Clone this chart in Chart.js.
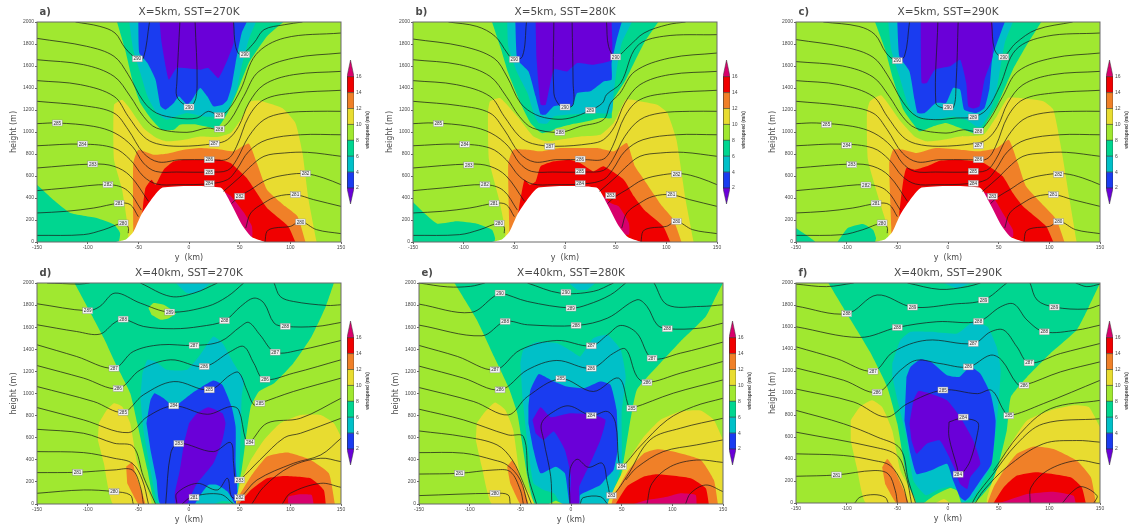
<!DOCTYPE html>
<html>
<head>
<meta charset="utf-8">
<title>windspeed cross sections</title>
<style>
html, body { margin: 0; background: #fff; }
#page { position: relative; width: 1135px; height: 526px; overflow: hidden; }
canvas { position: absolute; filter: blur(0.5px); }
</style>
<script src="https://cdn.jsdelivr.net/npm/chart.js@4"></script>
</head>
<body>
<div id="page"></div>
<script>
// axis ticks and colour levels
const yKmTicks = [-150, -100, -50, 0, 50, 100, 150];
const heightTicks = [0, 200, 400, 600, 800, 1000, 1200, 1400, 1600, 1800, 2000];
const windTicks = [2, 4, 6, 8, 10, 12, 14, 16];
const windLevels = [0, 2, 4, 6, 8, 10, 12, 14, 16, 18.1];
const windColors = ["#6a00d8", "#1a3cf0", "#00c0c8", "#00d690", "#a0e830", "#e8dc30", "#f08028", "#f00000", "#d8006c"];
// index into windColors
const C2 = 0, C4 = 1, C6 = 2, C8 = 3, C10 = 4, C12 = 5, C14 = 6, C16 = 7, C18 = 8;

const wholePlane = [[-150, 0], [150, 0], [150, 2000], [-150, 2000]];
const terrain = [[-72, 0], [-62, 25], [-55, 90], [-47, 250], [-38, 375], [-26, 495], [31, 495], [41, 357], [53, 145], [62, 45], [75, 0]];

// ---- panel a: windspeed bands [y km, height m]
const aLow8 = [[-150, 520], [-134, 385], [-117, 264], [-91, 218], [-74, 158], [-68, 82], [-70, 0], [-150, 0]];
const aYellow = [[126, 0], [118, 385], [112, 809], [105, 1082], [92, 1218], [70, 1285], [61, 1279], [51, 1112], [41, 990], [28, 954], [11, 960], [-5, 930], [-22, 915], [-32, 945], [-45, 1036], [-60, 1233], [-66, 1294], [-74, 1248], [-74, 748], [-66, 476], [-60, 112], [-60, 0]];
const aOrange = [[115, 0], [107, 233], [95, 324], [77, 476], [67, 718], [59, 894], [44, 824], [28, 845], [11, 855], [-5, 839], [-22, 803], [-35, 794], [-50, 839], [-55, 718], [-55, 142], [-55, 0]];
const aRed = [[105, 0], [98, 142], [77, 309], [67, 445], [57, 582], [41, 718], [31, 748], [11, 748], [-5, 748], [-15, 733], [-25, 657], [-33, 521], [-37, 567], [-43, 490], [-46, 264], [-46, 0]];
const aMagenta = [[31, 480], [41, 420], [54, 270], [62, 145], [62, 40], [40, 100], [25, 400]];
const aTop8 = [[-71, 2000], [-63, 1748], [-56, 1476], [-48, 1263], [-38, 1127], [-27, 1021], [-15, 1021], [-9, 1067], [8, 1067], [28, 1036], [38, 1172], [47, 1354], [59, 1627], [77, 1870], [93, 2000]];
const aTop6 = [[-59, 2000], [-55, 1748], [-48, 1536], [-41, 1324], [-32, 1172], [-22, 1112], [-13, 1142], [-2, 1172], [14, 1142], [28, 1142], [38, 1203], [47, 1385], [52, 1597], [59, 1840], [66, 2000]];
const aTop4 = [[-50, 2000], [-49, 1718], [-41, 1627], [-33, 1476], [-28, 1233], [-23, 1203], [-15, 1263], [-10, 1324], [-2, 1248], [3, 1294], [11, 1400], [18, 1324], [24, 1233], [33, 1248], [38, 1294], [42, 1415], [46, 1627], [52, 1900], [57, 2000]];
const aTop2 = [[-29, 2000], [-27, 1809], [-20, 1476], [-12, 1582], [11, 1567], [19, 1582], [29, 1491], [38, 1657], [44, 1809], [44, 2000]];

// ---- panel b
const bLow8 = [[-150, 364], [-139, 264], [-126, 167], [-107, 188], [-87, 167], [-72, 112], [-69, 36], [-70, 0], [-150, 0]];
const bYellow = [[127, 0], [119, 385], [110, 930], [101, 1173], [91, 1248], [71, 1285], [60, 1294], [48, 1082], [35, 976], [15, 960], [-1, 936], [-18, 915], [-31, 960], [-47, 1142], [-64, 1309], [-74, 1279], [-76, 1173], [-75, 748], [-65, 385], [-59, 112], [-59, 0]];
const bOrange = [[115, 0], [107, 203], [96, 324], [78, 567], [69, 688], [61, 900], [48, 824], [32, 854], [15, 854], [-5, 854], [-24, 824], [-37, 839], [-51, 839], [-56, 718], [-55, 142], [-55, 0]];
const bRed = [[104, 0], [97, 142], [78, 294], [68, 415], [58, 567], [38, 688], [28, 642], [15, 718], [5, 748], [-11, 733], [-24, 688], [-29, 551], [-35, 521], [-40, 567], [-46, 264], [-46, 0]];
const bMagenta = [[33, 460], [45, 355], [53, 324], [63, 173], [63, 67], [40, 100], [25, 400]];
const bTop8 = [[-72, 2000], [-64, 1779], [-56, 1536], [-44, 1264], [-34, 1082], [-23, 990], [-14, 1006], [-8, 1036], [5, 1067], [22, 1097], [35, 1127], [46, 1127], [46, 1264], [60, 1476], [78, 1809], [92, 2000]];
const bTop6 = [[-57, 2000], [-56, 1779], [-47, 1536], [-37, 1354], [-31, 1173], [-26, 1082], [-18, 1076], [-11, 1142], [5, 1158], [28, 1173], [46, 1173], [48, 1354], [51, 1567], [56, 1809], [66, 2000]];
const bTop4 = [[-49, 2000], [-47, 1657], [-36, 1551], [-29, 1324], [-24, 1158], [-19, 1158], [-11, 1233], [0, 1248], [7, 1233], [12, 1354], [25, 1370], [38, 1460], [46, 1476], [46, 1627], [51, 1839], [56, 2000]];
const bTop2 = [[-29, 2000], [-28, 1657], [-24, 1248], [-19, 1248], [-11, 1567], [2, 1551], [12, 1627], [28, 1612], [46, 1657], [46, 2000]];

// ---- panel c
const cLow8a = [[-150, 127], [-131, 0], [-150, 0]];
const cLow8b = [[-109, 0], [-99, 127], [-84, 164], [-74, 112], [-71, 36], [-72, 0]];
const cYellow = [[127, 0], [120, 385], [112, 839], [104, 1203], [94, 1279], [71, 1309], [59, 1309], [48, 1142], [35, 976], [12, 960], [-5, 930], [-21, 915], [-33, 960], [-48, 1112], [-66, 1333], [-77, 1279], [-80, 1173], [-79, 748], [-67, 355], [-59, 112], [-59, 0]];
const cOrange = [[115, 0], [107, 203], [95, 324], [77, 506], [69, 718], [60, 930], [48, 854], [31, 824], [12, 839], [-12, 854], [-31, 809], [-44, 839], [-54, 839], [-58, 718], [-56, 142], [-56, 0]];
const cRed = [[104, 0], [97, 142], [74, 324], [64, 445], [54, 597], [35, 718], [12, 748], [-8, 739], [-21, 688], [-33, 657], [-41, 673], [-44, 567], [-48, 264], [-48, 0]];
const cMagenta = [[31, 476], [44, 415], [54, 264], [64, 112], [64, 45], [40, 100], [25, 400]];
const cTop8 = [[-72, 2000], [-62, 1748], [-54, 1476], [-44, 1203], [-35, 1082], [-28, 1006], [-15, 1051], [-2, 1082], [12, 1036], [25, 990], [33, 1006], [38, 1082], [48, 1233], [64, 1567], [77, 1779], [92, 2000]];
const cTop6 = [[-59, 2000], [-56, 1748], [-48, 1506], [-39, 1233], [-31, 1142], [-15, 1112], [5, 1142], [18, 1112], [28, 1051], [33, 1051], [41, 1173], [48, 1385], [56, 1809], [64, 2000]];
const cTop4 = [[-50, 2000], [-48, 1688], [-38, 1551], [-33, 1294], [-30, 1173], [-23, 1173], [-12, 1264], [-2, 1264], [5, 1400], [12, 1385], [16, 1203], [28, 1173], [36, 1218], [41, 1400], [44, 1688], [56, 2000]];
const cTop2 = [[-27, 2000], [-26, 1445], [-21, 1445], [-13, 1567], [2, 1597], [12, 1657], [18, 1445], [20, 1233], [25, 1212], [31, 1233], [36, 1476], [44, 1688], [44, 2000]];

// ---- panel d
const dGreen = [[-113, 2000], [-97, 1727], [-84, 1501], [-71, 1244], [-58, 1003], [-51, 731], [-41, 308], [-32, 0], [44, 0], [47, 97], [52, 308], [56, 580], [61, 882], [69, 1018], [84, 1093], [103, 1274], [121, 1516], [135, 1788], [143, 2000]];
const dIsland = [[-40, 1773], [-35, 1818], [-25, 1803], [-13, 1727], [-20, 1682], [-28, 1667], [-37, 1712]];
const dCapCyan = [[-13, 2000], [-2, 1909], [11, 1924], [21, 2000]];
const dCyan = [[-46, 1184], [-41, 1305], [-33, 1290], [-22, 1214], [-2, 1214], [11, 1350], [24, 1516], [33, 1456], [44, 1274], [54, 1123], [52, 972], [51, 610], [49, 187], [46, 0], [-29, 0], [-38, 308], [-45, 670], [-48, 972]];
const dBlue = [[-42, 731], [-38, 942], [-34, 1003], [-25, 957], [-15, 882], [3, 1003], [24, 1117], [33, 1078], [42, 882], [46, 700], [46, 368], [46, 0], [-28, 0], [-32, 217], [-38, 489]];
const dPurple = [[0, 731], [8, 821], [19, 876], [33, 821], [36, 731], [33, 580], [24, 368], [8, 187], [3, 97], [-2, 0], [-13, 0], [-14, 97], [-9, 308], [-5, 550]];
const dBlobCyan = [[6, 0], [10, 66], [19, 172], [28, 172], [38, 112], [44, 21], [46, 0]];
const dBlobGreen = [[25, 0], [32, 25], [42, 20], [44, 0]];
const dYellowL = [[-89, 731], [-81, 852], [-74, 912], [-66, 882], [-58, 731], [-51, 368], [-37, 0], [-75, 0], [-84, 368], [-90, 580]];
const dOrangeL = [[-62, 338], [-56, 377], [-53, 278], [-43, 0], [-50, 0], [-61, 187]];
const dYellowR = [[150, 610], [143, 731], [130, 806], [110, 806], [90, 731], [74, 580], [61, 399], [52, 217], [47, 66], [47, 0], [150, 0]];
const dOrangeR = [[144, 0], [138, 278], [120, 399], [97, 465], [77, 429], [61, 248], [49, 66], [47, 0]];
const dRed = [[135, 0], [133, 127], [120, 233], [94, 254], [77, 233], [61, 127], [49, 0]];
const dMagenta = [[98, 0], [98, 66], [110, 88], [121, 82], [123, 0]];

// ---- panel e
const eGreen = [[-115, 2000], [-93, 1667], [-76, 1335], [-62, 1063], [-53, 821], [-43, 248], [-35, 0], [36, 0], [49, 248], [57, 670], [65, 1033], [85, 1244], [108, 1471], [133, 1697], [143, 1878], [150, 2000]];
const eCapCyan = [[-2, 2000], [6, 1940], [16, 1940], [24, 2000]];
const eCyan = [[-50, 1274], [-47, 1395], [-34, 1465], [-14, 1456], [1, 1380], [9, 1335], [22, 1501], [36, 1531], [49, 1395], [54, 1154], [50, 821], [50, 368], [42, 127], [36, 0], [-9, 0], [-17, 97], [-27, 127], [-37, 187], [-43, 550], [-48, 972]];
const eBlob = [[-22, 0], [-15, 30], [-8, 0]];
const eBlue = [[-42, 882], [-40, 1033], [-32, 1175], [-20, 1123], [-4, 1063], [13, 1048], [29, 1108], [39, 1078], [45, 852], [46, 489], [42, 308], [36, 248], [29, 172], [9, 82], [8, 0], [-1, 0], [-6, 278], [-15, 338], [-30, 278], [-37, 489], [-42, 731]];
const ePurple = [[-38, 761], [-30, 876], [-20, 785], [-1, 821], [22, 806], [34, 761], [29, 580], [19, 368], [8, 150], [8, 0], [-1, 0], [0, 248], [-6, 489], [-17, 655], [-27, 580], [-35, 640]];
const eYellowL = [[-93, 731], [-86, 821], [-75, 918], [-65, 852], [-57, 670], [-50, 248], [-37, 0], [-78, 0], [-88, 338], [-94, 580]];
const eOrangeL = [[-63, 338], [-58, 393], [-53, 308], [-42, 0], [-50, 0], [-60, 187]];
const eYellowR = [[150, 580], [141, 761], [128, 846], [108, 837], [88, 761], [72, 610], [59, 429], [42, 127], [37, 0], [150, 0]];
const eOrangeR = [[145, 0], [141, 217], [128, 399], [101, 474], [85, 495], [72, 459], [57, 308], [42, 66], [40, 0]];
const eRed = [[136, 0], [133, 142], [118, 233], [85, 269], [72, 248], [55, 157], [44, 0]];
const eMagenta = [[124, 0], [123, 82], [108, 97], [95, 66], [75, 36], [62, 0]];

// ---- panel f
const fGreen = [[-118, 2000], [-96, 1663], [-77, 1374], [-60, 1055], [-50, 720], [-42, 295], [-32, 0], [25, 0], [45, 204], [58, 660], [62, 964], [78, 1146], [101, 1359], [127, 1572], [139, 1784], [150, 2000]];
const fCapCyan = [[-4, 2000], [9, 1952], [22, 2000]];
const fBlobLime = [[-24, 0], [-14, 67], [2, 137], [9, 112], [13, 0]];
const fBlobYellow = [[-12, 0], [-4, 36], [2, 0]];
const fCyan = [[-55, 1268], [-47, 1480], [-37, 1556], [-17, 1556], [9, 1541], [25, 1648], [39, 1602], [48, 1420], [52, 1207], [48, 720], [43, 356], [35, 204], [25, 52], [14, 0], [12, 100], [3, 150], [-10, 120], [-22, 70], [-34, 200], [-41, 600], [-49, 900], [-55, 1150]];
const fBlue = [[-41, 1146], [-37, 1237], [-27, 1307], [-17, 1283], [-1, 1161], [11, 1146], [22, 1237], [32, 1176], [42, 994], [47, 751], [43, 356], [32, 204], [22, 67], [17, 21], [12, 52], [5, 204], [-1, 356], [-17, 295], [-31, 264], [-37, 447], [-43, 751]];
const fPurple = [[-38, 720], [-34, 933], [-29, 1018], [-17, 994], [-1, 933], [12, 781], [25, 568], [32, 356], [22, 234], [19, 128], [12, 173], [6, 325], [-8, 568], [-21, 538], [-31, 447], [-36, 568]];
const fYellowL = [[-96, 751], [-87, 872], [-75, 933], [-65, 872], [-55, 660], [-47, 295], [-32, 0], [-81, 0], [-90, 325], [-96, 568]];
const fOrangeL = [[-65, 325], [-60, 401], [-54, 325], [-39, 0], [-51, 0], [-62, 173]];
const fYellowR = [[150, 690], [139, 872], [124, 888], [101, 842], [78, 751], [62, 538], [48, 295], [39, 0], [150, 0]];
const fOrangeR = [[146, 0], [141, 234], [127, 386], [104, 492], [85, 514], [68, 447], [55, 295], [45, 143], [39, 0]];
const fRed = [[136, 0], [132, 143], [121, 234], [88, 280], [68, 249], [55, 143], [45, 0]];
const fMagenta = [[126, 0], [124, 67], [104, 103], [78, 82], [58, 21], [50, 0]];

// ---- potential temperature contours, top row shares most of them
const top280L = [[-150, 60], [-104, 67], [-84, 112], [-65, 172], [-60, 135], [-60, 80]];
const top281L = [[-150, 264], [-121, 279], [-94, 309], [-69, 352], [-58, 340], [-50, 230]];
const top282L = [[-150, 467], [-121, 491], [-79, 521], [-61, 470], [-47, 290]];
const top283L = [[-150, 673], [-94, 709], [-74, 688], [-58, 600], [-40, 370]];
const top280R = [[75, 0], [77, 97], [84, 127], [100, 142], [110, 188], [126, 112], [150, 76]];
const top281R = [[56, 127], [61, 264], [74, 355], [87, 415], [105, 430], [123, 385], [150, 324]];
const top282R = [[42, 350], [50, 415], [61, 476], [77, 567], [97, 612], [115, 621], [133, 582], [150, 521]];
const top283R = [[34, 460], [51, 597], [59, 673], [74, 779], [94, 809], [117, 815], [150, 779]];
const top284 = [[-150, 875], [-105, 890], [-74, 854], [-58, 748], [-45, 597], [-32, 527], [-12, 521], [20, 530], [38, 567], [47, 657], [59, 824], [77, 930], [110, 975], [150, 975]];
const top285 = [[-150, 1076], [-130, 1082], [-94, 1051], [-73, 990], [-56, 870], [-45, 718], [-33, 642], [-12, 636], [20, 636], [38, 651], [47, 748], [59, 960], [74, 1112], [94, 1172], [123, 1188], [150, 1188]];
const top286 = [[-150, 1279], [-104, 1239], [-74, 1172], [-60, 1021], [-45, 809], [-30, 727], [-9, 748], [20, 748], [38, 754], [47, 870], [59, 1142], [74, 1294], [103, 1354], [150, 1379]];
const top287 = [[-150, 1467], [-107, 1430], [-74, 1324], [-60, 1142], [-45, 960], [-32, 894], [-9, 870], [25, 894], [38, 930], [49, 1051], [59, 1263], [74, 1430], [103, 1521], [150, 1551]];
const a288 = [[-150, 1657], [-104, 1612], [-74, 1506], [-58, 1324], [-45, 1142], [-32, 1036], [-2, 997], [18, 1036], [30, 1027], [41, 1112], [54, 1324], [69, 1551], [103, 1672], [150, 1718]];
const a289 = [[-150, 1851], [-101, 1779], [-74, 1688], [-60, 1521], [-45, 1279], [-32, 1172], [-12, 1127], [8, 1127], [19, 1188], [30, 1151], [39, 1203], [51, 1385], [66, 1703], [94, 1854], [150, 1900]];
const a290L = [[-112, 2000], [-88, 1960], [-73, 1900], [-63, 1763], [-51, 1663], [-45, 1672], [-39, 2000]];
const a290C = [[-9, 2000], [-12, 1445], [-12, 1324], [-4, 1248], [5, 1263], [8, 1445], [6, 2000]];
const a290R = [[44, 2000], [46, 1779], [51, 1703], [64, 1809], [74, 1930], [94, 1975], [112, 2000]];
const b288 = [[-150, 1657], [-104, 1612], [-74, 1506], [-58, 1324], [-45, 1142], [-32, 1036], [-5, 997], [15, 1051], [38, 1112], [45, 1264], [54, 1350], [69, 1551], [103, 1672], [150, 1718]];
const b289 = [[-150, 1845], [-101, 1779], [-70, 1670], [-57, 1500], [-44, 1264], [-29, 1158], [-11, 1118], [5, 1127], [25, 1197], [37, 1264], [41, 1340], [55, 1445], [71, 1779], [97, 1870], [150, 1885]];
const b290L = [[-115, 2000], [-87, 1960], [-69, 1870], [-57, 1718], [-51, 1657], [-42, 1688], [-38, 2000]];
const b290C = [[-11, 2000], [-11, 1354], [-6, 1248], [0, 1218], [8, 1248], [8, 1445], [7, 2000]];
const b290R = [[41, 2000], [43, 1779], [50, 1682], [63, 1779], [78, 1900], [101, 1975], [119, 2000]];
const c288 = [[-150, 1640], [-104, 1600], [-74, 1500], [-58, 1324], [-45, 1142], [-32, 1036], [-2, 990], [15, 1020], [30, 1009], [41, 1112], [54, 1324], [69, 1551], [103, 1672], [150, 1718]];
const c289 = [[-150, 1840], [-101, 1770], [-74, 1680], [-60, 1521], [-45, 1279], [-31, 1142], [-12, 1112], [8, 1127], [25, 1136], [38, 1203], [51, 1415], [67, 1748], [97, 1870], [150, 1900]];
const c290L = [[-123, 2000], [-88, 1960], [-72, 1885], [-61, 1718], [-51, 1648], [-43, 1688], [-38, 2000]];
const c290C = [[-10, 2000], [-12, 1264], [-5, 1218], [5, 1218], [8, 1445], [10, 2000]];
const c290R = [[43, 2000], [46, 1748], [54, 1682], [67, 1809], [87, 1930], [123, 2000]];

const d290a = [[-140, 2000], [-125, 1995], [-108, 1990], [-98, 2000]];
const d290b = [[-48, 2000], [-18, 1878], [5, 1909], [28, 2000]];
const d289a = [[-150, 1812], [-100, 1749], [-88, 1788], [-73, 1909], [-48, 1818], [-19, 1737], [18, 1788], [38, 1878], [54, 2000]];
const d289b = [[84, 2000], [90, 1878], [103, 1833], [136, 1797], [150, 1803]];
const d288 = [[-150, 1622], [-111, 1561], [-88, 1537], [-74, 1637], [-65, 1673], [-45, 1607], [-15, 1586], [11, 1607], [35, 1658], [51, 1788], [64, 1863], [74, 1818], [84, 1637], [95, 1607], [126, 1607], [150, 1643]];
const d287 = [[-150, 1441], [-111, 1335], [-74, 1229], [-55, 1380], [-28, 1441], [5, 1435], [31, 1471], [51, 1607], [59, 1643], [70, 1531], [85, 1374], [110, 1395], [150, 1480]];
const d286 = [[-150, 1253], [-104, 1139], [-70, 1045], [-48, 1214], [-18, 1305], [15, 1244], [41, 1380], [54, 1425], [64, 1274], [74, 1129], [103, 1184], [150, 1305]];
const d285 = [[-150, 1063], [-94, 927], [-65, 830], [-45, 988], [-15, 1108], [20, 1033], [41, 1169], [49, 1190], [57, 1033], [64, 897], [70, 912], [103, 1018], [150, 1139]];
const d284 = [[-150, 873], [-104, 761], [-60, 646], [-41, 791], [-15, 888], [18, 812], [41, 882], [49, 852], [56, 580], [60, 559], [77, 731], [110, 776], [150, 957]];
const d283L = [[-150, 676], [-104, 640], [-74, 550], [-55, 519], [-45, 248], [-33, 0]];
const d283C = [[-23, 0], [-18, 459], [-10, 550], [24, 474], [41, 556], [44, 368], [46, 217], [50, 217], [70, 399], [94, 600], [110, 640], [150, 776]];
const d282L = [[-150, 474], [-104, 465], [-74, 414], [-56, 368], [-46, 217], [-40, 0]];
const d282C = [[-12, 0], [-12, 97], [8, 187], [28, 127], [38, 233], [42, 66], [50, 57], [67, 217], [103, 368], [130, 444], [150, 595]];
const d281L = [[-150, 284], [-110, 287], [-74, 308], [-56, 308], [-48, 157], [-45, 0]];
const d281C = [[-7, 0], [3, 66], [31, 88], [44, 0]];
const d281R = [[62, 0], [74, 157], [100, 338], [130, 414], [150, 383]];
const d280L = [[-150, 97], [-104, 127], [-74, 112], [-58, 82], [-55, 0]];
const d280R = [[92, 0], [100, 97], [130, 187], [150, 151]];

const e290a = [[-150, 2000], [-122, 1965], [-99, 1970], [-85, 2000]];
const e290b = [[-43, 2000], [-11, 1909], [22, 1924], [42, 2000]];
const e289a = [[-150, 1809], [-99, 1733], [-76, 1878], [-70, 1909], [-43, 1833], [0, 1773], [16, 1803], [39, 1893], [54, 2000]];
const e289b = [[82, 2000], [95, 1803], [128, 1788], [150, 1803]];
const e288 = [[-150, 1619], [-88, 1522], [-65, 1652], [-43, 1622], [6, 1616], [36, 1682], [65, 1848], [75, 1788], [85, 1622], [95, 1586], [128, 1592], [150, 1637]];
const e287 = [[-150, 1435], [-112, 1335], [-75, 1214], [-50, 1395], [-14, 1480], [20, 1431], [36, 1531], [49, 1616], [65, 1546], [80, 1320], [108, 1365], [150, 1465]];
const e286 = [[-150, 1248], [-106, 1139], [-70, 1033], [-43, 1214], [-14, 1299], [20, 1229], [42, 1365], [54, 1401], [65, 1154], [75, 1099], [108, 1184], [150, 1290]];
const e285 = [[-150, 1054], [-96, 927], [-62, 806], [-43, 972], [-10, 1133], [22, 1018], [47, 1139], [57, 882], [60, 867], [101, 1003], [150, 1123]];
const e284L = [[-150, 858], [-106, 761], [-62, 625], [-47, 610], [-42, 248], [-34, 0]];
const e284C = [[-19, 0], [-20, 248], [-27, 580], [-29, 731], [-17, 837], [-2, 888], [20, 800], [36, 837], [44, 731], [47, 399], [50, 338], [68, 519], [95, 761], [121, 882], [150, 957]];
const e283L = [[-150, 661], [-106, 610], [-73, 535], [-58, 399], [-47, 187], [-39, 0]];
const e283C = [[-1, 0], [-1, 308], [6, 405], [17, 332], [31, 368], [36, 187], [40, 76], [55, 248], [78, 580], [108, 686], [150, 776]];
const e282L = [[-150, 465], [-106, 460], [-76, 398], [-63, 353], [-50, 217], [-43, 0]];
const e282R = [[54, 217], [65, 330], [91, 474], [124, 535], [150, 580]];
const e281L = [[-150, 271], [-110, 278], [-76, 308], [-60, 293], [-50, 127], [-47, 0]];
const e281C = [[9, 0], [12, 57], [29, 66], [36, 0]];
const e281R = [[75, 0], [80, 187], [98, 338], [124, 398], [150, 376]];
const e280L = [[-150, 76], [-75, 97], [-62, 82], [-60, 0]];
const e280R = [[113, 0], [118, 97], [133, 172], [150, 112]];

const f290a = [[-150, 1990], [-120, 1967], [-93, 2000]];
const f290b = [[-40, 2000], [-8, 1942], [19, 1967], [32, 2000]];
const f290c = [[126, 2000], [137, 1967], [150, 1990]];
const f289a = [[-150, 1790], [-100, 1721], [-70, 1891], [-35, 1781], [6, 1809], [35, 1845], [58, 2000]];
const f289b = [[81, 2000], [88, 1845], [105, 1781], [136, 1763], [150, 1800]];
const f288 = [[-150, 1602], [-87, 1505], [-50, 1596], [-11, 1648], [30, 1651], [52, 1784], [65, 1809], [78, 1663], [95, 1556], [127, 1572], [150, 1617]];
const f287 = [[-150, 1420], [-110, 1313], [-74, 1198], [-54, 1374], [-21, 1480], [25, 1450], [42, 1556], [55, 1572], [68, 1420], [80, 1274], [111, 1359], [150, 1450]];
const f286 = [[-150, 1228], [-103, 1116], [-70, 1006], [-47, 1207], [-31, 1298], [-8, 1268], [20, 1237], [42, 1344], [53, 1298], [68, 1085], [75, 1070], [111, 1192], [150, 1283]];
const f285 = [[-150, 1036], [-93, 918], [-61, 781], [-40, 903], [-5, 1027], [29, 994], [43, 1024], [55, 842], [60, 793], [94, 903], [150, 1115]];
const f284L = [[-150, 842], [-103, 720], [-70, 600], [-47, 492], [-39, 200], [-32, 0]];
const f283L = [[-150, 644], [-73, 508], [-50, 430], [-41, 230], [-36, 0]];
const f282L = [[-150, 447], [-103, 432], [-73, 386], [-57, 340], [-45, 173], [-40, 0]];
const f281L = [[-150, 243], [-110, 255], [-73, 295], [-59, 264], [-52, 112], [-50, 0]];
const f280L = [[-92, 0], [-87, 52], [-73, 76], [-62, 52], [-59, 0]];
const f284C = [[1, 736], [12, 766], [29, 736], [29, 629], [22, 386], [15, 280], [11, 249], [9, 325], [1, 599], [1, 736]];
const f284R = [[45, 295], [71, 629], [101, 857], [150, 933]];
const f283R = [[24, 0], [29, 82], [42, 234], [68, 538], [94, 720], [150, 766]];
const f282R = [[27, 0], [35, 112], [58, 325], [94, 538], [127, 568], [150, 553]];
const f281R = [[81, 0], [82, 143], [98, 295], [127, 386], [150, 356]];
const f280R = [[113, 0], [122, 97], [132, 149], [147, 67], [144, 0]];

// contour labels [value, y km, height m]
const aLabels = [[290, -51, 1665], [290, 55, 1703], [290, 0, 1227], [289, 30, 1148], [288, 30, 1027], [287, 25, 894], [286, 20, 748], [285, 20, 636], [284, 20, 530], [282, 50, 415], [285, -130, 1082], [284, -105, 891], [283, -95, 709], [282, -80, 521], [281, -69, 352], [280, -65, 173], [282, 115, 621], [281, 105, 430], [280, 110, 182]];
const bLabels = [[290, -50, 1660], [290, 50, 1682], [290, 0, 1227], [289, 25, 1197], [288, -5, 997], [287, -15, 867], [286, 15, 754], [285, 15, 642], [284, 15, 530], [283, 45, 421], [285, -125, 1076], [284, -99, 888], [283, -95, 700], [282, -79, 521], [281, -70, 352], [280, -65, 170], [282, 110, 618], [281, 105, 430], [280, 110, 188]];
const cLabels = [[290, -50, 1648], [290, 55, 1682], [290, 0, 1227], [289, 25, 1136], [288, 30, 1009], [287, 30, 876], [286, 30, 748], [285, 25, 642], [284, 25, 533], [283, 44, 415], [285, -120, 1067], [284, -100, 879], [283, -95, 703], [282, -81, 518], [281, -71, 352], [280, -65, 173], [282, 109, 615], [281, 104, 430], [280, 109, 185]];
const dLabels = [[289, -100, 1749], [288, -65, 1673], [289, -19, 1737], [288, 35, 1658], [288, 95, 1607], [287, 5, 1435], [287, -74, 1229], [286, -70, 1045], [286, 15, 1244], [285, 20, 1033], [285, -65, 830], [284, -15, 888], [287, 85, 1374], [286, 75, 1129], [285, 70, 912], [284, 60, 559], [283, -10, 547], [283, 50, 217], [282, 50, 57], [281, 5, 60], [281, -110, 287], [280, -74, 112]];
const eLabels = [[290, -70, 1909], [290, -5, 1915], [289, 0, 1773], [288, -65, 1652], [288, 5, 1616], [288, 95, 1586], [287, -75, 1214], [287, 20, 1431], [287, 80, 1320], [286, -70, 1033], [286, 20, 1229], [286, 75, 1099], [285, -10, 1133], [285, 60, 867], [284, 20, 800], [284, 50, 338], [283, 40, 76], [281, -110, 278], [280, -75, 97]];
const fLabels = [[289, -35, 1781], [289, 35, 1845], [289, 105, 1781], [288, -100, 1721], [288, -50, 1596], [288, 30, 1651], [288, 95, 1556], [287, -74, 1198], [287, 25, 1450], [287, 80, 1274], [286, -70, 1006], [286, 20, 1237], [286, 75, 1070], [285, -5, 1027], [285, 60, 793], [284, 15, 781], [284, 10, 261], [281, -110, 255]];

const topIsos = [top280L, top281L, top282L, top283L, top280R, top281R, top282R, top283R, top284, top285, top286, top287];

const panels = [
  {
    letter: "a)", title: "X=5km, SST=270K", box: [37, 341, 22, 242], bar: [347, 55],
    fills: [[aLow8, C8], [aYellow, C12], [aOrange, C14], [aRed, C16], [aMagenta, C18], [aTop8, C8], [aTop6, C6], [aTop4, C4], [aTop2, C2]],
    hill: true, isos: topIsos.concat([a288, a289, a290L, a290C, a290R]), labels: aLabels,
  },
  {
    letter: "b)", title: "X=5km, SST=280K", box: [413, 717, 22, 242], bar: [723, 55],
    fills: [[bLow8, C8], [bYellow, C12], [bOrange, C14], [bRed, C16], [bMagenta, C18], [bTop8, C8], [bTop6, C6], [bTop4, C4], [bTop2, C2]],
    hill: true, isos: topIsos.concat([b288, b289, b290L, b290C, b290R]), labels: bLabels,
  },
  {
    letter: "c)", title: "X=5km, SST=290K", box: [796, 1100, 22, 242], bar: [1106, 55],
    fills: [[cLow8a, C8], [cLow8b, C8], [cYellow, C12], [cOrange, C14], [cRed, C16], [cMagenta, C18], [cTop8, C8], [cTop6, C6], [cTop4, C4], [cTop2, C2]],
    hill: true, isos: topIsos.concat([c288, c289, c290L, c290C, c290R]), labels: cLabels,
  },
  {
    letter: "d)", title: "X=40km, SST=270K", box: [37, 341, 283, 504], bar: [347, 316],
    fills: [[dGreen, C8], [dIsland, C10], [dCapCyan, C6], [dCyan, C6], [dBlue, C4], [dPurple, C2], [dBlobCyan, C6], [dBlobGreen, C8], [dYellowL, C12], [dOrangeL, C14], [dYellowR, C12], [dOrangeR, C14], [dRed, C16], [dMagenta, C18]],
    hill: false, labels: dLabels,
    isos: [d290a, d290b, d289a, d289b, d288, d287, d286, d285, d284, d283L, d283C, d282L, d282C, d281L, d281C, d281R, d280L, d280R],
  },
  {
    letter: "e)", title: "X=40km, SST=280K", box: [419, 723, 283, 504], bar: [729, 316],
    fills: [[eGreen, C8], [eCapCyan, C6], [eCyan, C6], [eBlob, C10], [eBlue, C4], [ePurple, C2], [eYellowL, C12], [eOrangeL, C14], [eYellowR, C12], [eOrangeR, C14], [eRed, C16], [eMagenta, C18]],
    hill: false, labels: eLabels,
    isos: [e290a, e290b, e289a, e289b, e288, e287, e286, e285, e284L, e284C, e283L, e283C, e282L, e282R, e281L, e281C, e281R, e280L, e280R],
  },
  {
    letter: "f)", title: "X=40km, SST=290K", box: [796, 1100, 283, 503], bar: [1106, 316],
    fills: [[fGreen, C8], [fCapCyan, C6], [fBlobLime, C10], [fBlobYellow, C12], [fCyan, C6], [fBlue, C4], [fPurple, C2], [fYellowL, C12], [fOrangeL, C14], [fYellowR, C12], [fOrangeR, C14], [fRed, C16], [fMagenta, C18]],
    hill: false, labels: fLabels,
    isos: [f290a, f290b, f290c, f289a, f289b, f288, f287, f286, f285, f284L, f283L, f282L, f281L, f280L, f284C, f284R, f283R, f282R, f281R, f280R],
  },
];

const page = document.getElementById("page");
const inkColor = "#4a4a4a";

function addCanvas(left, top, width, height) {
  const canvas = document.createElement("canvas");
  canvas.width = width;
  canvas.height = height;
  canvas.style.left = left + "px";
  canvas.style.top = top + "px";
  page.appendChild(canvas);
  return canvas;
}

function toPoints(list) {
  return list.map((p) => ({ x: p[0], y: p[1] }));
}

// a closed, filled band drawn as a line with the filler plugin
function bandDataset(list, color, tension) {
  return {
    data: toPoints(list),
    showLine: true,
    fill: "shape",
    backgroundColor: color,
    borderWidth: 0,
    pointRadius: 0,
    tension: tension,
  };
}

function isoDataset(list) {
  return {
    data: toPoints(list),
    showLine: true,
    fill: false,
    borderColor: "rgba(25,25,25,0.8)",
    borderWidth: 0.9,
    pointRadius: 0,
    tension: 0.35,
  };
}

// frame, panel letter and the little boxed contour labels
const plotExtras = {
  id: "plotExtras",
  afterDatasetsDraw(chart, args, opts) {
    const ctx = chart.ctx;
    const a = chart.chartArea;
    ctx.save();
    ctx.strokeStyle = "#6a6a6a";
    ctx.lineWidth = 1;
    ctx.strokeRect(a.left, a.top, a.right - a.left, a.bottom - a.top);
    ctx.textAlign = "center";
    ctx.textBaseline = "middle";
    ctx.font = "4.6px 'Liberation Sans'";
    opts.labels.forEach((lab) => {
      const x = chart.scales.x.getPixelForValue(lab[1]);
      const y = chart.scales.y.getPixelForValue(lab[2]);
      ctx.fillStyle = "#f2f2f2";
      ctx.fillRect(x - 5, y - 3, 10, 6);
      ctx.strokeStyle = "#8a8a8a";
      ctx.lineWidth = 0.4;
      ctx.strokeRect(x - 5, y - 3, 10, 6);
      ctx.fillStyle = "#333";
      ctx.fillText(String(lab[0]), x, y + 0.3);
    });
    ctx.font = "bold 10px 'DejaVu Sans'";
    ctx.textAlign = "left";
    ctx.fillStyle = inkColor;
    ctx.fillText(opts.letter, a.left + 2.5, 12.6);
    ctx.restore();
  },
};

function drawPanel(panel) {
  const [left, right, top, bottom] = panel.box;
  const canvas = addCanvas(left - 37, top - 22, right - left + 74, bottom - top + 22 + 23);
  const ds = [bandDataset(wholePlane, windColors[C10], 0)];
  panel.fills.forEach((f) => ds.push(bandDataset(f[0], windColors[f[1]], 0.15)));
  if (panel.hill) ds.push(bandDataset(terrain, "#ffffff", 0.2));
  panel.isos.forEach((iso) => ds.push(isoDataset(iso)));
  // earlier list entries must paint first
  ds.forEach((d, i) => (d.order = ds.length - i));

  new Chart(canvas, {
    type: "scatter",
    data: { datasets: ds },
    plugins: [plotExtras],
    options: {
      responsive: false,
      animation: false,
      events: [],
      layout: { padding: { left: 0, right: 37, top: 0, bottom: 0 } },
      plugins: {
        legend: { display: false },
        tooltip: { enabled: false },
        title: {
          display: true,
          fullSize: false,
          text: panel.title,
          color: inkColor,
          font: { family: "DejaVu Sans", size: 10.5, weight: "normal", lineHeight: 1.2 },
          padding: { top: 6, bottom: 3.4 },
        },
        plotExtras: { labels: panel.labels, letter: panel.letter },
      },
      scales: {
        x: {
          type: "linear",
          min: -150,
          max: 150,
          afterBuildTicks: (s) => { s.ticks = yKmTicks.map((v) => ({ value: v })); },
          afterFit: (s) => { s.height = 23; },
          grid: { drawOnChartArea: false, tickLength: 2, color: "#666" },
          border: { display: false },
          ticks: {
            autoSkip: false, maxRotation: 0, padding: 1, color: inkColor,
            font: { family: "Liberation Sans", size: 5 },
            callback: (v) => String(v),
          },
          title: {
            display: true, text: "y  (km)", color: inkColor,
            font: { family: "DejaVu Sans", size: 8 }, padding: { top: 0, bottom: 2 },
          },
        },
        y: {
          type: "linear",
          min: 0,
          max: 2000,
          afterBuildTicks: (s) => { s.ticks = heightTicks.map((v) => ({ value: v })); },
          afterFit: (s) => { s.width = 37; },
          grid: { drawOnChartArea: false, tickLength: 2, color: "#666" },
          border: { display: false },
          ticks: {
            autoSkip: false, padding: 1, color: inkColor,
            font: { family: "Liberation Sans", size: 5 },
            callback: (v) => String(v),
          },
          title: {
            display: true, text: "height (m)", color: inkColor,
            font: { family: "DejaVu Sans", size: 8 }, padding: { top: 9, bottom: 0 },
          },
        },
      },
    },
  });
}

// the vertical colour key with its pointed ends
const barTitle = {
  id: "barTitle",
  afterDraw(chart) {
    const ctx = chart.ctx;
    ctx.save();
    ctx.translate(21, chart.height / 2 - 2);
    ctx.rotate(-Math.PI / 2);
    ctx.textAlign = "center";
    ctx.textBaseline = "middle";
    ctx.fillStyle = inkColor;
    ctx.font = "bold 4.8px 'Liberation Sans'";
    ctx.fillText("windspeed (m/s)", 0, 0);
    ctx.restore();
  },
};

function drawColorbar(panel) {
  const canvas = addCanvas(panel.bar[0], panel.bar[1], 28, 154);
  const ds = windColors.map((color, i) => {
    const lo = windLevels[i];
    const hi = windLevels[i + 1];
    let outline;
    if (i === 0) outline = [[0.5, lo], [1, hi], [0, hi], [0.5, lo]];
    else if (i === windColors.length - 1) outline = [[0, lo], [1, lo], [0.5, hi], [0, lo]];
    else outline = [[0, lo], [1, lo], [1, hi], [0, hi], [0, lo]];
    const d = bandDataset(outline, color, 0);
    d.borderWidth = 0.5;
    d.borderColor = "#333";
    return d;
  });

  new Chart(canvas, {
    type: "scatter",
    data: { datasets: ds },
    plugins: [barTitle],
    options: {
      responsive: false,
      animation: false,
      events: [],
      layout: { padding: { left: 0, right: 9, top: 0, bottom: 0 } },
      plugins: { legend: { display: false }, tooltip: { enabled: false } },
      scales: {
        x: { type: "linear", min: 0, max: 1, display: false },
        y: {
          type: "linear",
          position: "right",
          min: windLevels[0],
          max: windLevels[windLevels.length - 1],
          afterBuildTicks: (s) => { s.ticks = windTicks.map((v) => ({ value: v })); },
          afterFit: (s) => { s.width = 12; },
          grid: { display: false, drawTicks: false },
          border: { display: false },
          ticks: {
            autoSkip: false, padding: 2, color: inkColor,
            font: { family: "Liberation Sans", size: 5 },
            callback: (v) => String(v),
          },
        },
      },
    },
  });
}

panels.forEach((panel) => {
  drawPanel(panel);
  drawColorbar(panel);
});
</script>
</body>
</html>
